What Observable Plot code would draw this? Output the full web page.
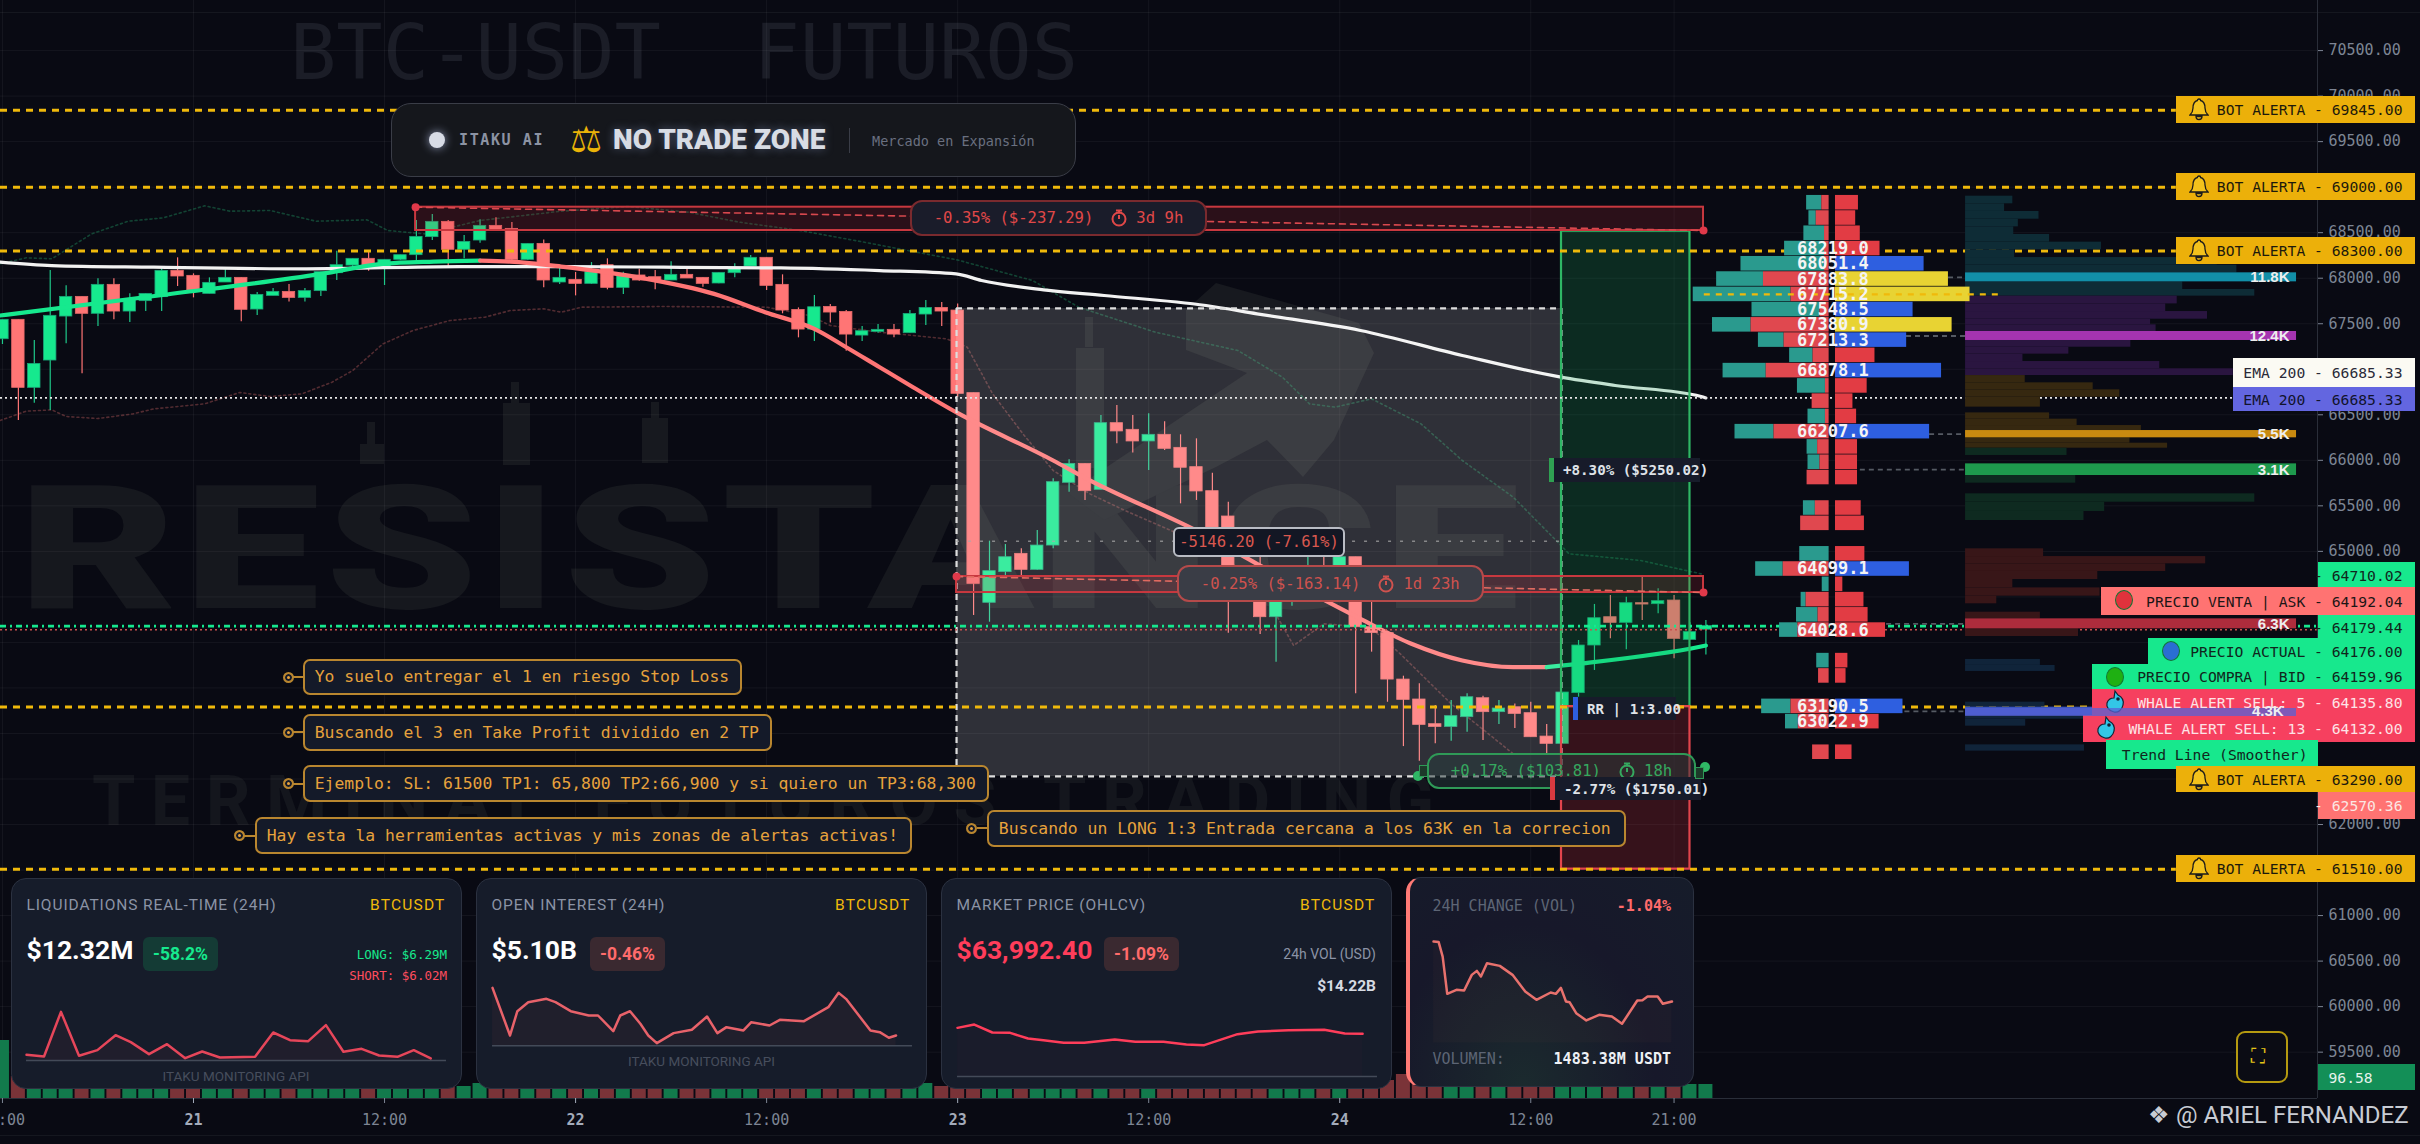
<!DOCTYPE html>
<html><head><meta charset="utf-8">
<script src="https://cdn.jsdelivr.net/npm/d3@7"></script>
<script src="https://cdn.jsdelivr.net/npm/@observablehq/plot@0.6"></script>
<style>
html,body{margin:0;padding:0;background:#090a13;width:2420px;height:1144px;overflow:hidden}
#root{position:relative;width:2420px;height:1144px;overflow:hidden;background:#090a13}
.a{position:absolute;white-space:pre;box-sizing:border-box}
.mono{font-family:"DejaVu Sans Mono",monospace}
.sans{font-family:Roboto,"Liberation Sans",sans-serif}
.tag{font-family:"DejaVu Sans Mono",monospace;font-size:14.7px;display:flex;align-items:center;justify-content:flex-end;padding-right:12.5px}
.note{font-family:"DejaVu Sans Mono",monospace;font-size:16.4px;color:#e7a23c;background:#141a29;border:2px solid #b9862f;border-radius:7px;display:flex;align-items:center;padding-left:10px}
.dot{position:absolute;width:11px;height:11px;border-radius:50%;border:2px solid #b9862f;background:#e7a23c;box-shadow:inset 0 0 0 2px #141a29;box-sizing:border-box}
.card{position:absolute;background:#161c2a;border:1px solid #2b3140;border-radius:15px;box-sizing:border-box}
.box{font-family:"DejaVu Sans Mono",monospace;font-size:15.6px;display:flex;align-items:center;justify-content:center;box-sizing:border-box}
</style></head><body><div id="root"></div>
<script>
// ---------- candles, one per hour, hour 0 = day 21 00:00 ----------
const firstHour = -12;
const opens = [67330,67543,66796,67096,67579,67795,67609,67927,67634,67748,67792,68081,68026,67828,67953,68004,67656,67806,67850,67784,67858,68055,68139,68213,68128,68202,68253,68451,68619,68312,68414,68575,68542,68202,68377,67953,67982,67938,68143,67894,68030,68011,67975,68037,68004,67942,68055,68128,68224,67927,67652,67436,67685,67630,67370,67411,67433,67396,67601,67674,67645,66738,64435,64772,64973,64797,65064,65753,65961,65676,66408,66335,66207,66280,66137,65925,65661,65383,64800,64470,64277,64500,64600,64780,64620,64936,64167,64102,63592,63373,63102,63072,63179,63387,63234,63288,63223,62966,62886,63443,63966,64277,64215,64431,64420,64460,64028,64140];
const highs = [67543,67543,67316,68085,67916,67795,67993,67993,67828,67828,68103,68224,68048,68004,68092,68004,67843,67887,67931,67887,68066,68297,68213,68282,68202,68253,68634,68700,68634,68469,68641,68663,68612,68377,68421,68114,68063,68172,68213,68066,68099,68085,68180,68099,68004,68059,68158,68249,68224,68037,67674,67810,67711,67645,67469,67491,67491,67645,67755,67733,67716,66738,65112,65075,65028,65229,65797,66005,65961,66492,66602,66492,66511,66423,66280,66236,65859,65540,64833,64933,64500,64680,64960,64960,64940,64936,64442,64102,63629,63545,63307,63362,63435,63409,63362,63325,63343,63098,63450,64021,64417,64515,64497,64717,64589,64515,64215,64240];
const lows = [67272,66437,66627,66547,67279,66950,67469,67543,67513,67634,67634,67909,67784,67828,67953,67521,67590,67806,67740,67740,67799,67975,68085,68077,67920,68194,68194,68414,68128,68213,68385,68524,68194,68194,67894,67931,67806,67931,67872,67821,67967,67872,67975,67997,67901,67938,68004,68128,67865,67609,67345,67304,67509,67198,67304,67396,67345,67396,67480,67469,66693,64296,64222,64717,64717,64790,65028,65650,65559,65676,66181,66079,65888,66108,65522,65559,65200,64101,64450,64088,63782,64398,64500,64520,64600,63435,63893,63343,62856,62695,62886,62915,63014,62922,63098,63054,62959,62758,62886,63399,63692,64039,63919,64241,64314,63820,64021,63861];
const closes = [67543,66796,67059,67587,67795,67609,67927,67634,67762,67828,68081,68019,67865,67949,68004,67653,67817,67850,67784,67858,68066,68143,68213,68139,68202,68253,68454,68619,68312,68399,68575,68524,68202,68377,67975,68004,67938,68066,67894,68022,67975,67975,68037,67997,67938,68059,68106,68224,67916,67645,67436,67681,67623,67381,67418,67433,67381,67608,67674,67634,66730,64643,64783,64936,64797,65064,65760,65961,65661,66408,66317,66207,66280,66126,65918,65658,65260,64680,64470,64277,64500,64650,64780,64620,64936,64167,64102,63592,63369,63094,63072,63190,63398,63234,63274,63215,62959,62886,63450,63966,64266,64215,64431,64416,64453,64039,64113,64179];
// volume by hour (height units)
const volumes = [58,22,16,14,18,15,13,12,16,14,13,15,12,16,18,14,13,31,14,15,13,12,16,14,15,13,14,17,13,12,15,16,13,14,12,15,16,13,14,15,12,13,16,14,13,15,29,33,34,28,24,20,18,16,15,17,14,13,15,12,14,13,16,18,14,15,13,12,16,14,15,18,20,24,40,68,100,60,42,26,20,18,16,15,13,14,16,18,24,20,15,16,14,30,23,23,23,23];
const hours = opens.map((_, i) => firstHour + i);
const candles = hours.map((h, i) => ({h, o: opens[i], hi: highs[i], lo: lows[i], c: closes[i], v: volumes[i] ?? 14}));

// ---------- lines ----------
const trendUpHours = [-12.15,-2.2,8.05,11.9,15.1,18];
const trendUpPrices = [67590,67810,68048,68158,68183,68194];
const trendDownHours = [18,19.9,23.1,27.9,32.7,35.9,39,41,43.1,45.2,47.9,54,56,63.6,66.8,73.3,76.5,79.7,82.9,85];
const trendDownPrices = [68194,68183,68128,68011,67828,67627,67443,67242,67022,66803,66529,65998,65808,65174,64863,64259,63985,63801,63728,63728];
const trendEndHours = [85,87,94.7,95];
const trendEndPrices = [63728,63765,63955,63966];
const emaHours = [-12.15,-8.9,-2.5,7.1,16.7,23.1,29.5,36.9,43.1,47.9,49.5,53.4,57.2,63.6,66.8,73.3,79.7,85.9,89.3,94.7,95];
const emaPrices = [68176,68139,68121,68103,68128,68128,68121,68113,68084,68048,67975,67872,67810,67700,67609,67426,67151,66913,66822,66701,66685];
const upperHours = [-12.15,-10.5,-8.9,-6.4,-4.1,-1.9,0.7,2.3,4.8,7.7,10.9,12.2,14.5,18,23.1,27.3,31.1,34.3,38.1,42,48,52.7,55.6,60.4,65.6,68.4,70.1,71.7,74,77.1,79.7,82.9,85.8,86.4,90.9,94.7];
const upperPrices = [68158,68224,68213,68487,68626,68663,68795,68736,68744,68626,68641,68524,68487,68634,68736,68787,68725,68615,68524,68400,68200,67975,67682,67408,67206,66913,66620,66584,66675,66401,65998,65595,65083,64973,64900,64753];
const lowerHours = [-12.15,-10.5,-8.9,-8,-6,-3.8,-2.5,0.7,2.9,4.8,6.8,8.7,10,11.9,13.8,16.1,18.3,19.9,22,23.1,24.4,29.5,36,38.7,40,43.1,47.3,48.6,50.2,52.1,54,56.3,58.5,61.4,64.9,67.5,69.1,71,73.9,75.8,79,82.9];
const lowerPrices = [66437,66540,66554,66481,66459,66510,66565,66620,66745,66701,66730,66858,66986,67279,67426,67535,67572,67645,67664,67627,67682,67689,67682,67590,67480,67407,67334,67243,66730,66291,65888,65632,65449,65229,64936,64460,63966,64204,64168,63875,63326,62776];
const alertPrices = [69845,69000,68300,63290,61510];
const priceLineAsk = 64139, priceLineLast = 64179, emaLevel = 66685;

// ---------- position tool ----------
const grayBox = {h1:47.93,h2:85.93,top:67668,bot:62528,mid:65110};
const longTP = {h1:85.93,h2:94,top:68516,entry:63295,stop:61510};
const rangeA = {h1:13.95,h2:94.85,top:68780,bot:68524};
const rangeB = {h1:47.93,h2:94.85,top:64724,bot:64548};

// ---------- order-book profile (left) ----------
const profileLabels = [68722,68554,68387,68219.0,68051.4,67883.8,67715.2,67548.5,67380.9,67213.3,67046,66878.1,66710,66543,66375,66207.6,66040,65872,65704,65369,65201,64866,64699.1,64531,64363,64196,64028.6,63693,63525,63190.5,63022.9,62687];
const profileTeal = [33,16,45,87,182,102,213,148,84,56,51,94,61,0,38,85,23,26,0,26,0,64,60,15,11,47,40,27,0,64,28,0];
const profileRed = [16,28,10,10,10,143,83,20,170,98,35,137,8,37,8,120,25,20,48,30,62,0,100,0,50,24,68,0,23,83,67,36];
const profileAsk = [50,44,54,97,193,246,293,169,254,155,86,231,69,38,46,205,48,48,48,56,63,64,161,16,62,71,109,27,23,147,95,36];
const profileKind = ["r","r","r","r","b","y","y","b","y","b","r","b","r","r","r","b","r","r","r","r","r","r","b","r","r","r","r","r","r","b","r","r"];
const printedLabels = [68219.0,68051.4,67883.8,67715.2,67548.5,67380.9,67213.3,66878.1,66207.6,64699.1,64028.6,63190.5,63022.9];
const binShift = 107;

// ---------- volume-at-price (right): price top, price bottom, volume ----------
const heatTeal = [[68901,68817,103],[68817,68733,85],[68733,68648,160],[68648,68564,115],[68564,68480,105],[68480,68396,183],[68396,68312,296],[68312,68227,107],[68227,68143,548],[68143,68059,591],[67960,67876,473],[67876,67803,630]];
const heatPurple = [[67803,67718,461],[67718,67634,436],[67634,67550,527],[67550,67488,403],[67488,67415,415],[67316,67242,360],[67242,67166,225],[67166,67085,125],[67085,67005,423],[67005,66931,583]];
const heatBrown = [[66931,66851,130],[66851,66774,278],[66774,66693,336],[66693,66584,163],[66521,66452,183],[66452,66382,243],[66382,66327,383],[66247,66188,358],[66188,66133,440]];
const heatGreen = [[66133,66053,221],[65833,65749,240],[65632,65540,630],[65540,65438,303],[65438,65339,258]];
const heatRed = [[65028,64943,170],[64943,64863,523],[64863,64779,436],[64779,64691,288],[64691,64599,103],[64599,64508,293],[64508,64424,68],[64332,64259,163],[64149,64065,246]];
const heatBlue = [[63813,63747,163],[63747,63681,195],[63344,63289,173],[63198,63157,300],[63157,63080,131],[62875,62806,259]];
const peakLabels = ["11.8K","12.4K","5.5K","3.1K","6.3K","4.3K"];
const peakTop = [68059,67415,66327,65961,64259,63289];
const peakBot = [67960,67316,66247,65833,64149,63198];
const peakFrom = [110.24,107.6,109.05,104.7,106.35,107.5];

// ---------- axes ----------
const priceTicks = [59500,60000,60500,61000,61500,62000,62500,63000,63500,64000,64500,65000,65500,66000,66500,67000,67500,68000,68500,69000,69500,70000,70500];
const dayTicks = [0,24,48,72];
const dayLabels = ["21","22","23","24"];
const hourTicks = [-12,12,36,60,84,93];
const hourLabels = ["12:00","12:00","12:00","12:00","12:00","21:00"];

// ---------- sparklines ----------
const liqX = [0,1,1.97,3,4.05,5.09,5.96,7,8.03,9.07,10.04,11.05,13.06,14.1,15.06,16.1,17.11,18.11,19.15,20.15,21.2,22.13,23.1];
const liqV = [1.7,1.2,14.6,1.4,3.1,7.6,5.5,1.9,4.9,0.7,2.7,0.9,1.1,8.4,6.1,5.8,10.6,2.6,3.5,1.5,1.1,3.1,0.6];
const oiX = [0,1,1.42,2.04,3.08,3.6,4.47,5.5,6.03,6.9,7.3,7.86,8.45,8.9,9.39,10.35,11.39,12.26,12.85,13.37,14.34,14.79,15.83,16.42,17.8,19.19,19.78,20.2,21.6,22.13,22.65,23.06];
const oiV = [17.4,3.1,10.4,13.1,14.1,13.1,10.4,9.1,9.1,4.4,9.1,10.4,6.6,3.1,0.8,3.8,4.8,8.8,3.8,5.6,4.6,7.1,6.1,7.8,7.4,11.6,15.9,14.1,4.6,4.1,2.4,3.1];
const mktX = [0,0.96,1.99,3.01,4.03,4.91,6.07,7.24,8.99,10.16,11.77,13.08,14.1,16,17.17,18.92,20.96,22.13,23.15];
const mktV = [14.6,15.6,13.2,13.1,11.4,10.9,10.1,10.1,11.1,10.4,10.4,9.6,9.4,12.7,13.5,13.9,14,12.9,12.8];
const chgX = [0,0.51,0.92,1.38,2.31,3.08,3.85,4.36,4.77,5.38,6.67,7.95,9.23,10.36,11.79,12.31,12.82,13.33,13.69,14.36,15.38,16.67,17.95,18.97,20.51,21.03,21.54,22.56,23.08,24];
const chgV = [30.5,30.4,26,14.8,16,15.8,20.5,21.7,20,24,23.2,20.5,15.5,13,15.2,14.8,16.6,12.5,12.3,9,6.8,8.5,8,5.8,12.8,12.9,14,14,11.8,12.5];

// ---------- drawing ----------
const G="#16e98e", R="#ff7575", GOLD="#f0b90b";
const root=document.getElementById("root");
function add(cls,style,html){const d=document.createElement("div");d.className="a "+cls;d.style.cssText=style;d.innerHTML=html??"";root.appendChild(d);return d;}

// watermarks below the chart
add("mono","left:290px;top:8px;font-size:77px;color:#1b1d27","BTC-USDT  FUTUROS");
add("sans","left:18px;top:448px;font-size:172px;font-weight:900;color:#16181e;transform-origin:0 0;transform:scaleX(1.42);letter-spacing:4px","RESISTANCE");
add("sans","left:92px;top:760px;font-size:70px;font-weight:700;color:#14161d;letter-spacing:15.5px","TERMINAL FUTUROS TRADING");
add("","left:0;top:12px;width:2420px;height:1px;background:#15171f","");
add("","left:0;top:1135px;width:2420px;height:1px;background:#15171f","");
add("","left:0;top:0;width:2420px;height:1144px",'<svg width="2420" height="1144" style="position:absolute;left:0;top:0"><g fill="#17191f"><path d="M1186 310L1216 283L1359 323L1374 353L1334 440L1303 477L1267 440L1216 467L1104 520L1068 493L1247 373L1186 350Z"/><rect x="367" y="422" width="8" height="22"/><rect x="360" y="444" width="24" height="20"/><rect x="511" y="382" width="8" height="22"/><rect x="503" y="403" width="27" height="62"/><rect x="651" y="402" width="8" height="17"/><rect x="642" y="418" width="26" height="45"/><rect x="1085" y="317" width="8" height="30"/><rect x="1076" y="348" width="28" height="120"/></g></svg>');

const toRows=(rows)=>rows.map(([t,b,v])=>({t,b,v}));
const heatK=0.02884, heatStart=111.31, profL=102.74, profR=103.14;
const profile=profileLabels.map((p,i)=>({m:p+binShift,teal:profileTeal[i],red:profileRed[i],ask:profileAsk[i],k:profileKind[i]}));
const kindColor={r:"#e23c44",b:"#2e5fe0",y:"#e8d333"};
const heat=(rows,fill,op=1)=>Plot.rect(toRows(rows),{x1:heatStart,x2:d=>heatStart+d.v*heatK,y1:"t",y2:"b",fill,fillOpacity:op});
const peaks=peakLabels.map((l,i)=>({l,t:peakTop[i],b:peakBot[i],from:peakFrom[i],fill:["#128fa8","#a534b0","#c98a10","#1e9a4d","#ad2c3c","#3b55c0"][i]}));
const seg=(X,Y)=>X.map((x,i)=>({x,y:Y[i]}));
const volBase=58991, volK=10.983;

const chart=Plot.plot({
  width:2420,height:1144,marginLeft:0,marginRight:103,marginTop:0,marginBottom:46,
  x:{type:"linear",domain:[-12.123,133.417]},
  y:{type:"linear",domain:[58991,71050]},
  style:{background:"transparent",fontFamily:"DejaVu Sans Mono",fontSize:"15px",color:"#7d8594",position:"absolute",left:"0",top:"0"},
  marks:[
    Plot.ruleY(priceTicks,{stroke:"#fff",strokeOpacity:.05}),
    Plot.ruleX([...dayTicks,...hourTicks],{stroke:"#fff",strokeOpacity:.05}),
    // volume
    Plot.rect(candles,{x1:d=>d.h-.44,x2:d=>d.h+.44,y1:volBase,y2:d=>volBase+d.v*volK,fill:d=>d.c>=d.o?"#127a4c":"#7a3338"}),
    // bands
    Plot.line(seg(upperHours,upperPrices),{x:"x",y:"y",stroke:"#1f8a5c",strokeOpacity:.45,strokeWidth:1.6,strokeDasharray:"2 3"}),
    Plot.line(seg(lowerHours,lowerPrices),{x:"x",y:"y",stroke:"#b85a5a",strokeOpacity:.42,strokeWidth:1.6,strokeDasharray:"2 3"}),
    // candles
    Plot.ruleX(candles,{x:"h",y1:"lo",y2:"hi",stroke:d=>d.c>=d.o?"#1fc98a":R,strokeWidth:1.2}),
    Plot.rect(candles,{x1:d=>d.h-.39,x2:d=>d.h+.39,y1:"o",y2:"c",fill:d=>d.c>=d.o?G:R,stroke:d=>d.c>=d.o?"#1aa578":"#e86a6a",strokeWidth:.8}),
    // MAs
    Plot.line(seg(emaHours,emaPrices),{x:"x",y:"y",stroke:"#f2f2f2",strokeWidth:3.2,curve:"monotone-x"}),
    Plot.line(seg(trendUpHours,trendUpPrices),{x:"x",y:"y",stroke:G,strokeWidth:4.2,curve:"monotone-x"}),
    Plot.line(seg(trendDownHours,trendDownPrices),{x:"x",y:"y",stroke:R,strokeWidth:4.2,curve:"monotone-x"}),
    Plot.line(seg(trendEndHours,trendEndPrices),{x:"x",y:"y",stroke:G,strokeWidth:4.2,curve:"monotone-x"}),
    // measuring box
    Plot.rect([grayBox],{x1:"h1",x2:"h2",y1:"top",y2:"bot",fill:"#fff",fillOpacity:.155}),
    Plot.ruleY([grayBox],{y:"top",x1:"h1",x2:"h2",stroke:"#ddd",strokeWidth:2.2,strokeDasharray:"6 5"}),
    Plot.ruleY([grayBox],{y:"bot",x1:"h1",x2:"h2",stroke:"#ddd",strokeWidth:2.2,strokeDasharray:"6 5"}),
    Plot.ruleX([grayBox],{x:"h1",y1:"top",y2:"bot",stroke:"#ddd",strokeWidth:2.2,strokeDasharray:"6 5"}),
    Plot.ruleX([grayBox],{x:"h2",y1:"top",y2:"bot",stroke:"#ddd",strokeWidth:2.2,strokeDasharray:"6 5"}),
    Plot.ruleY([grayBox],{y:"mid",x1:"h1",x2:"h2",stroke:"#aaa",strokeOpacity:.7,strokeWidth:1.5,strokeDasharray:"3 9"}),
    // long position zones
    Plot.rect([longTP],{x1:"h1",x2:"h2",y1:"top",y2:"entry",fill:"#18a456",fillOpacity:.22,stroke:"#2fb765",strokeWidth:2.2}),
    Plot.rect([longTP],{x1:"h1",x2:"h2",y1:"entry",y2:"stop",fill:"#d8323c",fillOpacity:.22,stroke:"#e2454c",strokeWidth:2.2}),
    // range boxes
    Plot.rect([rangeA,rangeB],{x1:"h1",x2:"h2",y1:"top",y2:"bot",fill:"#d8323c",fillOpacity:.17,stroke:"#c8383f",strokeWidth:2}),
    Plot.line(seg([rangeA.h1,rangeA.h2],[rangeA.top,rangeA.bot]),{x:"x",y:"y",stroke:"#d8484e",strokeWidth:1.6,strokeDasharray:"6 5"}),
    Plot.line(seg([rangeB.h1,rangeB.h2],[rangeB.top,rangeB.bot]),{x:"x",y:"y",stroke:"#e06a60",strokeWidth:1.6,strokeDasharray:"6 5"}),
    Plot.dot(seg([rangeA.h1,rangeB.h1,rangeA.h2,rangeB.h2],[rangeA.top,rangeB.top,rangeA.bot,rangeB.bot]),{x:"x",y:"y",r:4,fill:"#e0394a"}),
    // price lines
    Plot.ruleY(alertPrices,{x1:-12.123,x2:124.55,stroke:GOLD,strokeWidth:3,strokeDasharray:"7 6"}),
    Plot.ruleY([emaLevel],{x1:-12.123,x2:128.3,stroke:"#e6e6e6",strokeWidth:1.8,strokeDasharray:"2 3"}),
    Plot.ruleY([priceLineLast],{x1:-12.123,x2:133.4,stroke:G,strokeWidth:2.8,strokeDasharray:"6 4 2 4"}),
    Plot.ruleY([priceLineAsk],{x1:-12.123,x2:133.4,stroke:"#c9504e",strokeWidth:1.6,strokeDasharray:"2 3"}),
    // volume at price
    heat(heatTeal,"#0e2c36"),heat(heatPurple,"#2a1540"),heat(heatBrown,"#362810"),heat(heatGreen,"#0e2a20"),heat(heatRed,"#381618"),heat(heatBlue,"#10243a"),
    Plot.ruleY(peaks,{y:d=>(d.t+d.b)/2,x1:"from",x2:heatStart,stroke:"#555a63",strokeWidth:1.8,strokeDasharray:"5 4"}),
    Plot.rect(peaks,{x1:heatStart,x2:132.1,y1:"t",y2:"b",fill:"fill"}),
    Plot.text(peaks,{x:131.66,y:d=>(d.t+d.b)/2,text:"l",fill:"#eee",fontWeight:"bold",fontSize:15,textAnchor:"end",fontFamily:"Liberation Sans"}),
    // order-book profile
    Plot.rect(profile,{x1:d=>profL-(d.teal+d.red)*heatK,x2:d=>profL-d.red*heatK,y1:d=>d.m-80,y2:d=>d.m+80,fill:"#2a9a8e"}),
    Plot.rect(profile,{x1:d=>profL-d.red*heatK,x2:profL,y1:d=>d.m-80,y2:d=>d.m+80,fill:"#e0484f"}),
    Plot.rect(profile,{x1:profR,x2:d=>profR+d.ask*heatK,y1:d=>d.m-80,y2:d=>d.m+80,fill:d=>kindColor[d.k]}),
    Plot.ruleY([67715.2+binShift],{x1:94.9,x2:113.4,stroke:GOLD,strokeWidth:2.2,strokeDasharray:"6 6"}),
    Plot.text(printedLabels,{x:102.98,y:d=>d+binShift,text:d=>d.toFixed(1),fill:"#f4f4f4",fontWeight:"bold",fontSize:17}),
    // axes
    Plot.axisY({anchor:"right",ticks:priceTicks,tickFormat:d=>d.toFixed(2),tickSize:5,tickPadding:6,fontSize:15,label:null,color:"#7d8594"}),
    Plot.ruleX([133.417],{stroke:"#2a2e39"}),
    Plot.ruleY([volBase],{x1:-12.123,x2:133.417,stroke:"#2a2e39"}),
    Plot.axisX({ticks:dayTicks,tickFormat:(d,i)=>dayLabels[i],tickSize:5,tickPadding:11,fontSize:15,fontWeight:"bold",label:null,color:"#a3abba"}),
    Plot.axisX({ticks:hourTicks,tickFormat:(d,i)=>hourLabels[i],tickSize:5,tickPadding:11,fontSize:15,label:null,color:"#7d8594"})
  ]
});
root.appendChild(chart);

// ---------- icons ----------
const bell='<svg width="20" height="24" viewBox="0 0 20 24" style="position:absolute;left:13px;top:1px"><path d="M10 2c1 0 1.6.7 1.6 1.5C15 4.4 16 7.500 16 11c0 3 1 5 3 7H1c2-2 3-4 3-7 0-3.500 1-6.600 4.400-7.500C8.400 2.700 9 2 10 2zM7 19.500h6c0 2-1.300 3-3 3s-3-1-3-3z" fill="#f3c21c" stroke="#1b1b1b" stroke-width="1.3"/></svg>';
const clock=c=>`<svg width="16" height="18" viewBox="0 0 16 18" style="margin:0 9px 0 18px"><circle cx="8" cy="10" r="6.500" fill="none" stroke="${c}" stroke-width="2"/><path d="M5 1.500h6M8 1.500v3M8 6v4" stroke="${c}" stroke-width="2"/></svg>`;
const whale='<svg width="22" height="26" viewBox="0 0 22 26" style="position:absolute;left:12px;top:0"><path d="M11 2l3 4c4 2 6 6 5 10-1 5-5 8-9 7-5-1-8-5-7-9 1-3 4-5 7-5z" fill="#33c6e6" stroke="#123" stroke-width="1.200"/><circle cx="14" cy="10" r="1.800" fill="#123"/></svg>';
const circ=c=>`<span style="position:absolute;width:18px;height:20px;border-radius:50%;background:${c};border:1.500px solid #173;left:14px;top:3px;box-sizing:border-box"></span>`;

// ---------- right tags ----------
function tag(l,t,b,bg,color,text,icon=""){add("tag",`left:${l}px;top:${t}px;width:${2415-l}px;height:${b-t}px;background:${bg};color:${color}`,icon+text);}
const GT="#17e88d",RT="#ff7372",YT="#ecb00a",WT="#f6405f";
tag(2176,96,123,YT,"#1d1a0c","BOT ALERTA - 69845.00",bell);
tag(2176,173,200,YT,"#1d1a0c","BOT ALERTA - 69000.00",bell);
tag(2176,237,264,YT,"#1d1a0c","BOT ALERTA - 68300.00",bell);
tag(2233,358,387,"#fbfaf3","#2a2a38","EMA 200 - 66685.33");
tag(2233,387,411,"#6366e0","#11132c","EMA 200 - 66685.33");
tag(2317.500,562,588,GT,"#10261c","- 64710.02");
tag(2317.500,614,640,GT,"#10261c","- 64179.44");
tag(2317.500,792,819,RT,"#fbe7e3","- 62570.36");
tag(2101,587,615,RT,"#1c1616","PRECIO VENTA | ASK - 64192.04",circ("#e0323c"));
tag(2148,638,664,GT,"#10261c","PRECIO ACTUAL - 64176.00",circ("#2a6ed2"));
tag(2092,664,689,GT,"#10261c","PRECIO COMPRA | BID - 64159.96",circ("#1fb012"));
tag(2092,689,716,WT,"#fde3e6","WHALE ALERT SELL: 5 - 64135.80",whale);
tag(2083,715,742,WT,"#fde3e6","WHALE ALERT SELL: 13 - 64132.00",whale);
add("tag","left:2106px;top:740px;width:211.500px;height:29px;background:#17e88d;color:#10261c;padding-right:10px","Trend Line (Smoother)");
tag(2176,766,792,YT,"#1d1a0c","BOT ALERTA - 63290.00",bell);
tag(2176,855,882,YT,"#1d1a0c","BOT ALERTA - 61510.00",bell);
add("tag","left:2317.500px;top:1064px;width:97.500px;height:26px;background:#138f57;color:#e6f3ec;justify-content:flex-start;padding:0 0 0 11px","96.58");
add("","left:1965px;top:708px;width:331px;height:8px;background:#5561d6;opacity:.75","");
add("mono","left:2252px;top:702px;font-size:15px;font-weight:bold;color:#eee;font-family:'Liberation Sans'","4.3K");

// ---------- annotations ----------
[[302.700,658.700,439.700,36.600,"Yo suelo entregar el 1 en riesgo Stop Loss",288],[302.700,714,469.800,36.700,"Buscando el 3 en Take Profit dividido en 2 TP",288],[302.700,765,686.700,37,"Ejemplo: SL: 61500 TP1: 65,800 TP2:66,900 y si quiero un TP3:68,300",288],[254.700,817,657.300,37,"Hay esta la herramientas activas y mis zonas de alertas activas!",239],[986.800,810,639,36.700,"Buscando un LONG 1:3 Entrada cercana a los 63K en la correcion",971.500]].forEach(([l,t,w,h,s,dx])=>{
  add("note",`left:${l}px;top:${t}px;width:${w}px;height:${h}px`,s);
  const d=document.createElement("div");d.className="dot";d.style.left=(dx-5.5)+"px";d.style.top=(t+h/2-5.5)+"px";root.appendChild(d);
  add("",`left:${dx+5}px;top:${t+h/2-1}px;width:${l-dx-5}px;height:2px;background:#b9862f`,"");
});
// range labels
add("box",`left:910px;top:200px;width:297px;height:36px;background:#1a1c2a;border:2px solid #7a2a2e;border-radius:12px;color:#e04848`,"-0.35% ($-237.29)"+clock("#e04848")+"3d 9h");
add("box",`left:1173px;top:527px;width:172px;height:30px;background:#131724;border:2px solid #b9bcc4;border-radius:6px;color:#d9584f`,"-5146.20 (-7.61%)");
add("box",`left:1176.500px;top:565px;width:307.500px;height:37px;background:#3a3d46;border:2px solid #b54a4a;border-radius:12px;color:#cf524e`,"-0.25% ($-163.14)"+clock("#cf524e")+"1d 23h");
add("box",`left:1427px;top:753px;width:269px;height:36px;background:rgba(40,60,60,.5);border:2px solid #2f9a57;border-radius:12px;color:#35a85f`,"+0.17% ($103.81)"+clock("#35a85f")+"18h");
const smallBox=(l,t,w,h,bar,s)=>{add("box",`left:${l}px;top:${t}px;width:${w}px;height:${h}px;background:#171b2a;color:#dfe2e8;font-weight:bold;font-size:14.200px;justify-content:flex-start;padding-left:9px;border-left:5px solid ${bar}`,s);};
smallBox(1549,458,151,24,"#2fa052","+8.30% ($5250.02)");
smallBox(1550,777,151,23,"#d83a40","-2.77% ($1750.01)");
smallBox(1573,697,103,23,"#2e5fe0","RR | 1:3.00");
add("","left:1413px;top:771px;width:10px;height:10px;border-radius:50%;background:#2fb765","");
add("","left:1419px;top:765px;width:9px;height:12px;border:1.500px solid #2f9a57;background:#1d3a2a","");
add("","left:1700px;top:762px;width:10px;height:10px;border-radius:50%;background:#2fb765","");
add("","left:1695px;top:767px;width:9px;height:12px;border:1.500px solid #2f9a57;background:#1d3a2a","");

// ---------- header pill ----------
add("","left:391px;top:103px;width:685px;height:74px;background:#15171c;border:1.500px solid #3a3d47;border-radius:20px","");
add("","left:429px;top:132px;width:16px;height:16px;border-radius:50%;background:#d7dbe5;box-shadow:0 0 10px #8d97b5","");
add("mono","left:459px;top:131px;font-size:15px;font-weight:bold;color:#8c93a3;letter-spacing:1.600px","ITAKU AI");
add("","left:570px;top:120px;font-size:36px;line-height:40px;color:#eab308;font-family:'DejaVu Sans'","⚖");
add("sans","left:613px;top:123px;font-size:28px;font-weight:900;color:#d8dce4;text-shadow:0 0 10px rgba(150,170,220,.45)","NO TRADE ZONE");
add("","left:849px;top:128px;width:1px;height:25px;background:#3a3d47","");
add("mono","left:872px;top:133px;font-size:13.500px;color:#6a7080","Mercado en Expansión");

// ---------- cards ----------
function card(l,w,title,sym,big,bigColor,badge,badgeBg,badgeColor,badgeL,badgeW){
  add("card",`left:${l}px;top:878px;width:${w}px;height:211px`,"").style.position="absolute";
  add("sans",`left:${l+15.500}px;top:896px;font-size:15.500px;color:#8b93a5;letter-spacing:.9px`,title);
  add("sans",`right:${2420-(l+w-16.500)}px;top:896px;font-size:15.500px;color:#f0b90b;letter-spacing:1.200px`,sym);
  add("sans",`left:${l+15.500}px;top:934px;font-size:26.500px;font-weight:700;color:${bigColor}`,big);
  add("sans",`left:${badgeL}px;top:937px;width:${badgeW}px;height:34px;border-radius:6px;background:${badgeBg};color:${badgeColor};font-size:17.500px;font-weight:700;display:flex;align-items:center;justify-content:center`,badge);
}
card(11,451,"LIQUIDATIONS REAL-TIME (24H)","BTCUSDT","$12.32M","#fff","-58.2%","#143b35","#16e98e",143,75);
card(476,451,"OPEN INTEREST (24H)","BTCUSDT","$5.10B","#fff","-0.46%","#3a2930","#ff6b6b",590,75);
card(941,451,"MARKET PRICE (OHLCV)","BTCUSDT","$63,992.40","#ff3d5a","-1.09%","#3a2930","#ff6b6b",1104,75);
add("mono","right:1973px;top:947px;font-size:12.500px;color:#17e88d","LONG: $6.29M");
add("mono","right:1973px;top:968px;font-size:12.500px;color:#ff4d5e","SHORT: $6.02M");
add("sans","left:0;width:472px;text-align:center;top:1068px;font-size:13.500px;color:#474e5d","ITAKU MONITORING API");
add("sans","left:476px;width:451px;text-align:center;top:1053px;font-size:13.500px;color:#474e5d","ITAKU MONITORING API");
add("sans","right:1044px;top:946px;font-size:14px;color:#8b93a5","24h VOL (USD)");
add("sans","right:1044px;top:977px;font-size:15.500px;font-weight:700;color:#d6dae2","$14.22B");
add("card","left:1405.500px;top:877px;width:288.500px;height:210px;border-left:4px solid #ff7a75;background:radial-gradient(ellipse at 40% 100%,#1b2a2e 0%,#17182a 55%,#161c2a 100%)","");
add("mono","left:1432.500px;top:897px;font-size:15px;color:#5d6575","24H CHANGE (VOL)");
add("mono","right:749px;top:897px;font-size:15px;font-weight:bold;color:#ff6b6b","-1.04%");
add("mono","left:1432.500px;top:1050px;font-size:15px;color:#5d6575","VOLUMEN:");
add("mono","right:749px;top:1050px;font-size:15px;font-weight:bold;color:#eef0f4","1483.38M USDT");

function spark(X,Y,l,w,base,px,stroke,hasBase,areaOp){
  const h=Math.ceil(d3.max(Y)*px/3.33)+4, H=h*3.33;
  const data=X.map((x,i)=>({x,y:Y[i]}));
  const p=Plot.plot({width:w,height:H,margin:0,x:{domain:[0,24],axis:null},y:{domain:[0,H/3.33],axis:null},
    style:{background:"transparent",position:"absolute",left:l+"px",top:(base-H)+"px",overflow:"visible"},
    marks:[
      Plot.areaY(data,{x:"x",y:"y",fill:stroke,fillOpacity:areaOp}),
      hasBase?Plot.ruleY([0],{stroke:"#434a58",strokeWidth:1.400}):null,
      Plot.lineY(data,{x:"x",y:"y",stroke,strokeWidth:2.500})
    ]});
  root.appendChild(p);
}
spark(liqX,liqV,26,420,1060,1,"#e6465a",true,.05);
spark(oiX,oiV,491.500,420,1045,1,"#e8626a",true,.05);
spark(mktX,mktV,956.500,420,1076,1,"#ff3d5a",true,.02);
spark(chgX,chgV,1432.500,238.500,1043,1,"#e8716d",false,.03);

// expand button + credit
add("","left:2236px;top:1031px;width:52px;height:52px;border:2px solid #b59a10;border-radius:9px;background:#0b0c14","");
add("mono","left:2251px;top:1044px;font-size:20px;color:#e3c417","⛶");
add("sans","left:2148px;top:1101px;font-size:24px;color:#c8ccd4","❖ @ ARIEL FERNANDEZ");
</script></body></html>
